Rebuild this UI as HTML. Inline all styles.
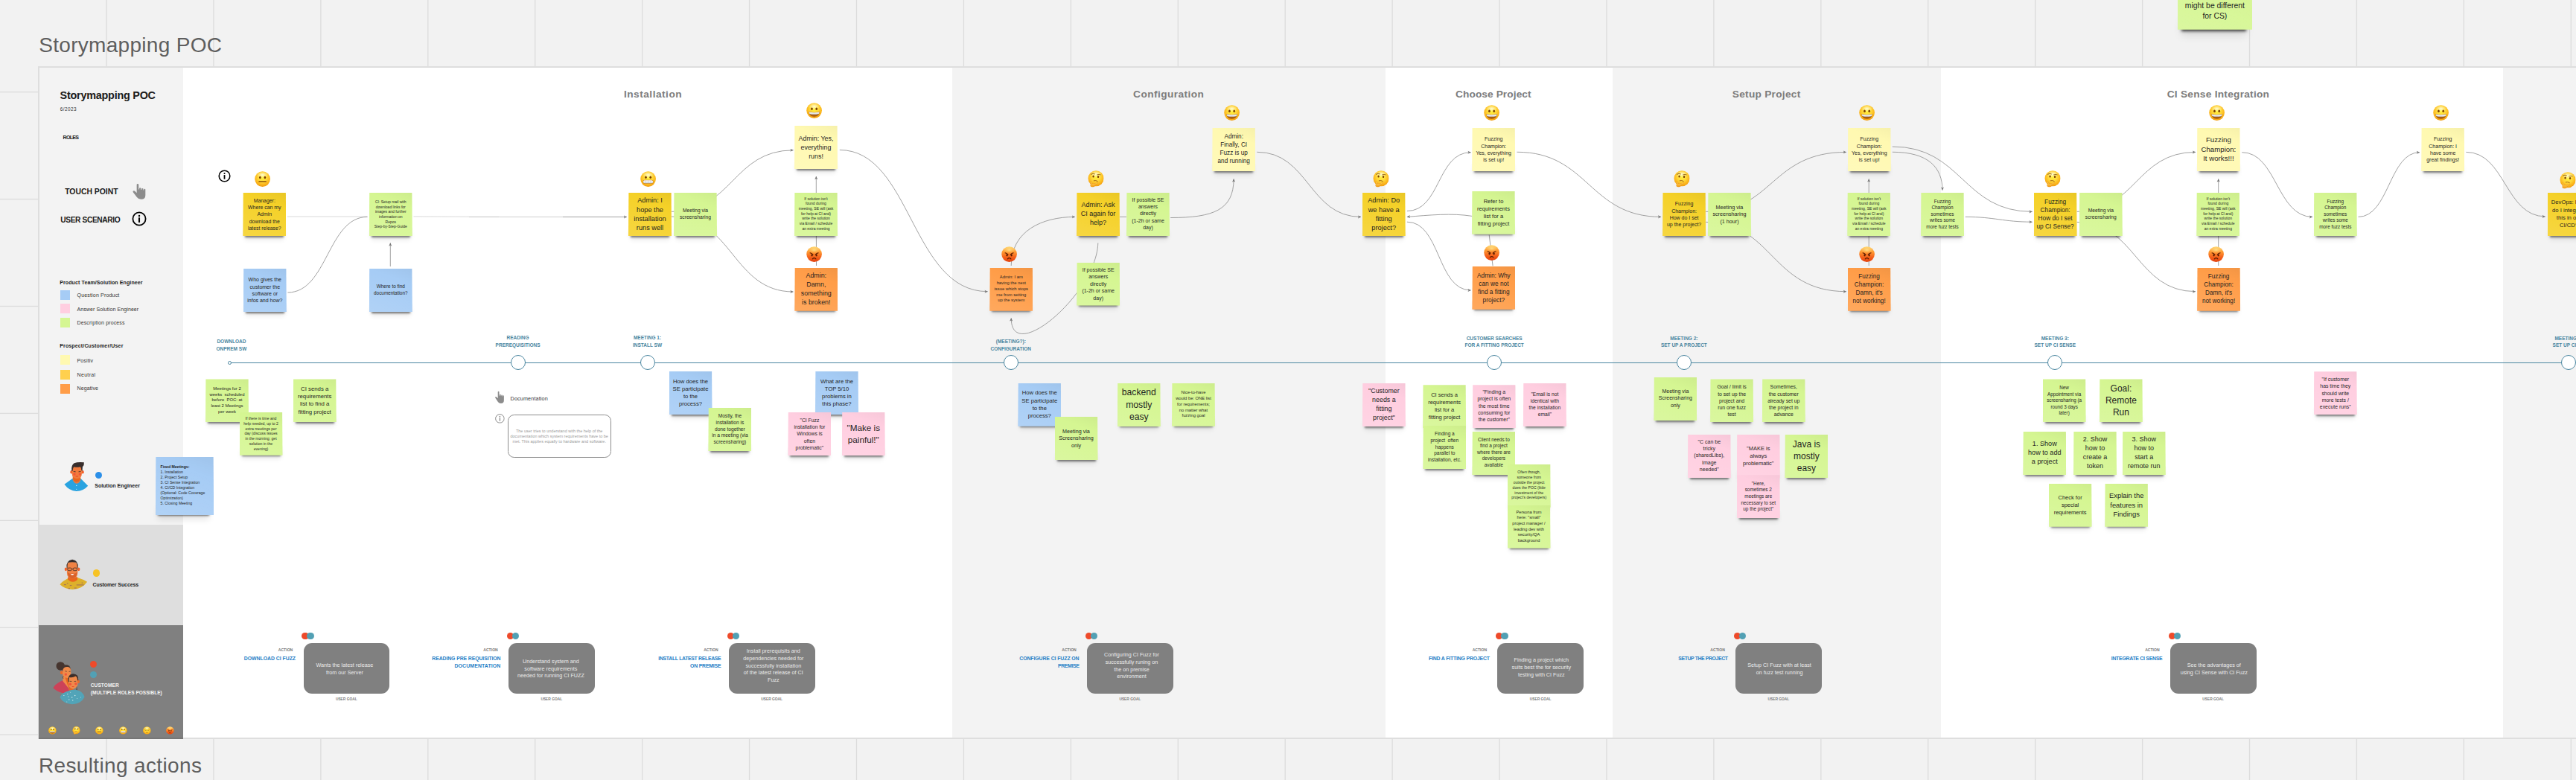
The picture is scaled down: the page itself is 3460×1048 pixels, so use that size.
<!DOCTYPE html>
<html><head><meta charset="utf-8"><title>Storymapping POC</title><style>
*{box-sizing:border-box}
html,body{margin:0;padding:0}
body{width:3460px;height:1048px;overflow:hidden;position:relative;background:#f2f2f2;font-family:"Liberation Sans",sans-serif;color:#1a1a1a}
.a{position:absolute}
svg{overflow:visible}
.gl{position:absolute;background:#e2e2e2}
.t{position:absolute;white-space:nowrap}
.s{position:absolute;width:58px;height:58px;z-index:5;display:flex;align-items:center;justify-content:center;text-align:center;line-height:1.335;color:#1f1f1f}
.s::before{content:"";position:absolute;left:3px;right:3px;bottom:.5px;height:12px;z-index:-2;box-shadow:0 2px 2.6px rgba(0,0,0,.5),0 5px 7px rgba(0,0,0,.09)}
.s::after{content:"";position:absolute;left:0;top:0;right:0;bottom:0;z-index:-1;clip-path:polygon(.7% 0,99.3% 0,100% 100%,0 100%)}
.s.y::after{background:linear-gradient(200deg,rgba(0,0,0,.05) 0,rgba(0,0,0,0) 28%,rgba(255,255,255,.12) 100%),#f5d128}
.s.ly::after{background:linear-gradient(200deg,rgba(0,0,0,.035) 0,rgba(0,0,0,0) 28%,rgba(255,255,255,.12) 100%),#fff9b1}
.s.o::after{background:linear-gradient(200deg,rgba(0,0,0,.05) 0,rgba(0,0,0,0) 28%,rgba(255,255,255,.12) 100%),#ff9d48}
.s.g::after{background:linear-gradient(200deg,rgba(0,0,0,.04) 0,rgba(0,0,0,0) 28%,rgba(255,255,255,.12) 100%),#d5f692}
.s.b::after{background:linear-gradient(200deg,rgba(0,0,0,.04) 0,rgba(0,0,0,0) 28%,rgba(255,255,255,.12) 100%),#a6ccf5}
.s.p::after{background:linear-gradient(200deg,rgba(0,0,0,.035) 0,rgba(0,0,0,0) 28%,rgba(255,255,255,.12) 100%),#ffcee0}
.s span{display:block;white-space:pre}
.s.big::before{left:5px;right:8px;bottom:1px;height:20px;box-shadow:0 2.8px 3.8px rgba(0,0,0,.72),0 9px 12px rgba(0,0,0,.1)}
.s.mid::before{left:3.5px;right:6px;bottom:1px;height:16px;box-shadow:0 2.2px 3px rgba(0,0,0,.72),0 7px 9px rgba(0,0,0,.1)}
.hd{position:absolute;top:117.5px;height:18px;line-height:18px;font-weight:bold;font-size:13.7px;color:#7c7c7c;white-space:nowrap}
.tl{position:absolute;height:9px;line-height:9px;font-weight:bold;font-size:6.5px;color:#4a86a0;white-space:nowrap;text-align:center;width:200px}
.nd{position:absolute;width:20px;height:20px;border-radius:50%;background:#fff;border:1.1px solid #4a86a0;top:477.3px}
.card{position:absolute;top:863.7px;width:115.8px;height:68.2px;border-radius:11px;background:#808080;color:#ebebeb;font-size:7.2px;line-height:9.8px;display:flex;align-items:center;justify-content:center;text-align:center;white-space:nowrap}
.act{position:absolute;height:8px;line-height:8px;font-size:5.1px;font-weight:bold;color:#777;text-align:right;width:120px;white-space:nowrap}
.an{position:absolute;height:10px;line-height:10px;font-size:6.9px;font-weight:bold;color:#1f80c6;text-align:right;width:160px;white-space:nowrap}
.ug{position:absolute;top:936px;height:8px;line-height:8px;font-size:4.85px;font-weight:bold;color:#777;text-align:center;width:120px;white-space:nowrap}
.dot{position:absolute;border-radius:50%}
.lg{position:absolute;left:103.5px;height:10px;line-height:10px;font-size:7px;color:#333;white-space:nowrap}
.lq{position:absolute;left:80.6px;width:13.2px;height:13.2px}
</style></head><body>

<svg width="0" height="0" style="position:absolute">
<defs>
<radialGradient id="gy" cx="50%" cy="38%" r="62%">
 <stop offset="0" stop-color="#fff53a"/><stop offset=".45" stop-color="#ffd93b"/><stop offset=".8" stop-color="#fbb41a"/><stop offset="1" stop-color="#f09a10"/>
</radialGradient>
<linearGradient id="ga" x1="0" y1="0" x2="0" y2="1">
 <stop offset="0" stop-color="#ffd872"/><stop offset=".35" stop-color="#ff9a33"/><stop offset=".7" stop-color="#f4601a"/><stop offset="1" stop-color="#e2400c"/>
</linearGradient>
<radialGradient id="hl" cx=".5" cy=".5" r=".5"><stop offset="0" stop-color="#fff" stop-opacity=".8"/><stop offset=".5" stop-color="#fff" stop-opacity=".35"/><stop offset="1" stop-color="#fff" stop-opacity="0"/></radialGradient>
<radialGradient id="hla" cx=".5" cy=".5" r=".5"><stop offset="0" stop-color="#ffe890" stop-opacity=".8"/><stop offset=".5" stop-color="#ffe08a" stop-opacity=".35"/><stop offset="1" stop-color="#ffe08a" stop-opacity="0"/></radialGradient>
<linearGradient id="gt" x1="0" y1="0" x2="0" y2="1">
 <stop offset="0" stop-color="#ffffff"/><stop offset="1" stop-color="#cfd3dc"/>
</linearGradient>
<linearGradient id="gm" x1="0" y1="0" x2="0" y2="1">
 <stop offset="0" stop-color="#7a3d00"/><stop offset="1" stop-color="#c06a10"/>
</linearGradient>
<linearGradient id="gh" x1="0" y1="0" x2="0" y2="1">
 <stop offset="0" stop-color="#ffe070"/><stop offset="1" stop-color="#f59a10"/>
</linearGradient>

<symbol id="e-grin" viewBox="0 0 42 42">
 <circle cx="21" cy="21" r="20.5" fill="url(#gy)"/>
 <ellipse cx="21" cy="10" rx="15" ry="9" fill="url(#hl)"/>
 <ellipse cx="14.8" cy="16.5" rx="2.6" ry="3.5" fill="#7a3b00"/>
 <ellipse cx="27.2" cy="16.5" rx="2.6" ry="3.5" fill="#7a3b00"/>
 <path d="M6.5 24.5 Q21 27.5 35.500 24.5 Q34 37.500 21 37.500 Q8 37.500 6.500 24.5Z" fill="url(#gm)"/>
 <path d="M7 24.600 Q21 27.5 35 24.600 Q34.600 28.500 32.500 30.300 Q21 32.500 9.500 30.300 Q7.400 28.500 7 24.600Z" fill="url(#gt)"/>
</symbol>

<symbol id="e-neutral" viewBox="0 0 42 42">
 <circle cx="21" cy="21" r="20.5" fill="url(#gy)"/>
 <ellipse cx="21" cy="10" rx="15" ry="9" fill="url(#hl)"/>
 <ellipse cx="14.500" cy="16.800" rx="2.6" ry="3.6" fill="#7a3b00"/>
 <ellipse cx="27.5" cy="16.800" rx="2.6" ry="3.6" fill="#7a3b00"/>
 <rect x="10.5" y="26.300" width="21" height="2.6" rx="1.3" fill="#7a3b00"/>
</symbol>

<symbol id="e-grimace" viewBox="0 0 42 42">
 <circle cx="21" cy="21" r="20.5" fill="url(#gy)"/>
 <ellipse cx="21" cy="10" rx="15" ry="9" fill="url(#hl)"/>
 <ellipse cx="14.800" cy="16.300" rx="2.6" ry="3.5" fill="#7a3b00"/>
 <ellipse cx="27.200" cy="16.300" rx="2.6" ry="3.5" fill="#7a3b00"/>
 <rect x="6.800" y="23.300" width="28.400" height="10" rx="4.800" fill="#c47a10"/>
 <rect x="7.800" y="24.300" width="26.400" height="8" rx="3.900" fill="url(#gt)"/>
 <path d="M14.400 24.300V32.300M21 24.300V32.300M27.600 24.300V32.300" stroke="#b9bdc8" stroke-width=".9"/>
</symbol>

<symbol id="e-think" viewBox="0 0 42 44">
 <circle cx="21.5" cy="21" r="20.5" fill="url(#gy)"/>
 <ellipse cx="21.5" cy="10" rx="15" ry="9" fill="url(#hl)"/>
 <ellipse cx="14.700" cy="15.600" rx="2.3" ry="3" fill="#7a3b00"/>
 <ellipse cx="27.300" cy="16.400" rx="2.3" ry="3" fill="#7a3b00"/>
 <path d="M9 10.500 Q13.500 6.500 18 9.500" stroke="#9a6a1a" stroke-width="2" fill="none" stroke-linecap="round"/>
 <path d="M24.500 11.500 Q29 9.500 33.500 11.500" stroke="#9a6a1a" stroke-width="2" fill="none" stroke-linecap="round"/>
 <path d="M16 26.800 Q21 25.200 25.800 28.200" stroke="#9a5a10" stroke-width="1.800" fill="none" stroke-linecap="round"/>
 <path d="M7.500 29 Q6.500 31 8.500 34 L7 40 Q7.500 43.500 13 43.500 Q19 43 19.500 38 Q22 36.500 26 33.200 Q27 31.800 25.500 31.500 Q21 33 18 35 Q14 33 11.500 34.500 Q10.500 31 9.500 29 Q8.500 28 7.500 29Z" fill="url(#gh)" stroke="#e08a0a" stroke-width=".7"/>
</symbol>

<symbol id="e-angry" viewBox="0 0 42 42">
 <circle cx="21" cy="21" r="20.5" fill="url(#ga)"/>
 <ellipse cx="21" cy="9.5" rx="15" ry="9" fill="url(#hla)"/>
 <ellipse cx="15" cy="23.500" rx="2.300" ry="3.200" fill="#5a1a00"/>
 <ellipse cx="27" cy="23.500" rx="2.300" ry="3.200" fill="#5a1a00"/>
 <path d="M10 17.500 Q14 18.500 18 22" stroke="#5a1a00" stroke-width="2" fill="none" stroke-linecap="round"/>
 <path d="M32 17.500 Q28 18.500 24 22" stroke="#5a1a00" stroke-width="2" fill="none" stroke-linecap="round"/>
 <path d="M16.500 33.500 Q21 28.500 25.500 33.500" stroke="#5a1a00" stroke-width="2.300" fill="none" stroke-linecap="round"/>
</symbol>

<symbol id="e-pensive" viewBox="0 0 42 42">
 <circle cx="21" cy="21" r="20.5" fill="url(#gy)"/>
 <ellipse cx="21" cy="10" rx="15" ry="9" fill="url(#hl)"/>
 <path d="M10.500 20 Q14.500 23 18 20.500" stroke="#7a3b00" stroke-width="1.800" fill="none" stroke-linecap="round"/>
 <path d="M24 20.500 Q27.500 23 31.500 20" stroke="#7a3b00" stroke-width="1.800" fill="none" stroke-linecap="round"/>
 <path d="M9 15 Q13 12 17 13.500" stroke="#9a6a1a" stroke-width="1.600" fill="none" stroke-linecap="round"/>
 <path d="M25 13.500 Q29 12 33 15" stroke="#9a6a1a" stroke-width="1.600" fill="none" stroke-linecap="round"/>
 <path d="M17 31.500 Q21 29 25 31.500" stroke="#7a3b00" stroke-width="1.800" fill="none" stroke-linecap="round"/>
</symbol>

<symbol id="i-info" viewBox="0 0 20 20">
 <circle cx="10" cy="10" r="8.600" fill="none" stroke="#000" stroke-width="1.800"/>
 <circle cx="10" cy="5.900" r="1.250" fill="#000"/>
 <rect x="8.950" y="8.300" width="2.100" height="6.600" fill="#000"/>
</symbol>
<symbol id="i-info-thin" viewBox="0 0 20 20">
 <circle cx="10" cy="10" r="9" fill="none" stroke="#555" stroke-width="1.100"/>
 <circle cx="10" cy="5.800" r="1.100" fill="#555"/>
 <rect x="9.300" y="8.300" width="1.400" height="6.800" fill="#555"/>
</symbol>
<symbol id="i-hand" viewBox="0 0 18 22">
 <path d="M5.700 2.200 Q5.700 0.900 6.800 0.900 Q7.900 0.900 7.900 2.200 L7.900 8.200 L8.600 8.200 L8.600 6.900 Q8.600 5.900 9.600 5.900 Q10.600 5.900 10.600 6.900 L10.600 8.600 L11.300 8.600 L11.300 7.500 Q11.300 6.600 12.250 6.600 Q13.200 6.600 13.200 7.500 L13.200 9.200 L13.900 9.200 L13.900 8.300 Q13.900 7.500 14.800 7.500 Q15.700 7.500 15.700 8.400 L15.700 15.500 Q15.700 20.800 10.800 20.800 Q7.500 20.800 5.900 18.200 L1.500 11.600 Q0.900 10.600 1.800 10 Q2.700 9.500 3.600 10.400 L5.700 12.600 Z" fill="#8c8c8c"/>
</symbol>

<symbol id="av-se" viewBox="0 0 34 42">
 <path d="M0.500 31.500 L11.500 23.500 L23 23.500 L33 33.500 Q27 40.500 17 41 Q7 40.500 0.500 31.500Z" fill="#29a3e0"/>
 <path d="M12 17 L12 24.500 Q14.500 28.500 17.500 28.800 Q21 28 22.800 24.500 L22.800 17Z" fill="#e8661e"/>
 <path d="M12 24.300 Q14.500 28.700 17.500 28.800 Q21 28 22.800 24.300 L23.500 23.600 Q21.500 30.500 17.500 30.500 Q13.500 30.500 11.300 23.600Z" fill="#f27a3c"/>
 <ellipse cx="10.200" cy="14.600" rx="1.700" ry="2.400" fill="#f0602a"/>
 <ellipse cx="25.700" cy="14.600" rx="1.700" ry="2.400" fill="#f0602a"/>
 <path d="M11 8 Q11 6 17.500 6 Q24.500 6 24.500 8 L24.500 17 Q24.500 23.500 17.800 23.800 Q11 23.500 11 17Z" fill="#f27a3c"/>
 <path d="M10.600 13.500 Q9.500 5 14 2.300 Q19 0.300 27.500 1.200 Q28 5 25.500 7.500 L25.200 13 L24 12.500 Q23.500 8.500 22.500 7.300 Q17 8.500 13.500 7.300 Q12 9 11.800 13Z" fill="#382e2c"/>
 <circle cx="14.300" cy="17.500" r="1.700" fill="#f2553a"/><circle cx="21.800" cy="17.500" r="1.700" fill="#f2553a"/>
 <path d="M13 13.800 L16 14.200 M20 14.200 L23 13.800" stroke="#40302a" stroke-width=".9"/>
 <path d="M16 20.300 Q17.800 21 19.600 20.300" stroke="#e8452c" stroke-width="1" fill="none"/>
 <circle cx="17.200" cy="33.200" r=".6" fill="#dff"/><circle cx="17.200" cy="38.200" r=".6" fill="#dff"/>
</symbol>

<symbol id="av-cs" viewBox="0 0 38 42">
 <path d="M0.500 34.500 Q4 30 13 25.500 L25 25.500 Q33 28 37.500 31 Q31 40.500 18 41.500 Q7 41 0.500 34.500Z" fill="#ddb02c"/>
 <path d="M6 35 h3 M14 36 h2.500 M23 35.300 h10 M20 39.500 h3 M10 33 h1.500 M30 32.500 h1.500 M12 40 h2" stroke="#8a5a6a" stroke-width=".8"/>
 <path d="M11.300 24.500 L11.300 27.500 Q13.500 31 18 31 Q22.500 31 24.300 27.500 L24.300 24.500Z" fill="#ea651c"/>
 <ellipse cx="8.500" cy="14" rx="1.700" ry="2.500" fill="#f0602a"/>
 <ellipse cx="26" cy="14" rx="1.700" ry="2.500" fill="#f0602a"/>
 <path d="M10 8 Q10 4 17.300 4 Q24.600 4 24.600 8 L24.600 19 Q24.600 26.500 17.300 26.500 Q10 26.500 10 19Z" fill="#f08244"/>
 <path d="M10.800 17.500 Q10.800 26.300 17.300 26.600 Q23.800 26.300 23.800 17.500 Q22 21 17.300 19.500 Q12.500 21 10.800 17.500Z" fill="#d9622a"/>
 <path d="M14.800 20.800 Q17.300 19.800 19.800 20.800 Q17.300 23.300 14.800 20.800Z" fill="#fff"/>
 <path d="M9.800 12.500 Q8 2.500 17.300 0.800 Q26.500 2.500 24.800 12.500 L24 12.500 Q24 6 22.500 4.800 Q17.300 4 12 4.800 Q10.500 6 10.600 12.500Z" fill="#362c2a"/>
 <rect x="11" y="12.200" width="5.200" height="3.600" rx="1.200" fill="none" stroke="#3a2c28" stroke-width=".8"/>
 <rect x="18.400" y="12.200" width="5.200" height="3.600" rx="1.200" fill="none" stroke="#3a2c28" stroke-width=".8"/>
 <path d="M16.200 13.600 h2.200" stroke="#3a2c28" stroke-width=".8"/>
</symbol>

<symbol id="av-cu" viewBox="0 0 44 60">
 <circle cx="10.300" cy="7" r="5.800" fill="#46352f"/>
 <path d="M11 9.500 Q14 4 20 5.500 Q24.500 7 24 13 L14 15Z" fill="#46352f"/>
 <ellipse cx="11.700" cy="15.800" rx="1.800" ry="2.400" fill="#ec6a28"/>
 <path d="M13.500 12 Q15 7.500 20.500 8.200 Q25 9 24.500 16 Q24 22 20.500 23.500 L22.500 40 L12 38 L14 22 Q12.500 17 13.500 12Z" fill="#f08a4a"/>
 <path d="M16.500 22.500 L22.500 40 L20.500 23.500Z" fill="#e8661e"/>
 <circle cx="17.500" cy="18.300" r="1.700" fill="#f2553a"/>
 <path d="M16.500 13.800 L19 14.400 M21.800 14.600 L24 14.200" stroke="#40302a" stroke-width=".7"/>
 <path d="M14.200 20.500 Q13 22.500 14 24" stroke="#46352f" stroke-width=".7" fill="none"/>
 <path d="M0.300 37 Q2 32 12.800 26.500 L21.500 37.500 L23 44 Q10 45.500 0.300 37Z" fill="#cc4258"/>
 <g transform="translate(-1.200 3.600)">
 <path d="M24 46 L23.500 32 L29 33 L29.500 46Z" fill="#e8661e"/>
 <path d="M22.500 22 Q22 15.500 28.500 15.800 Q35 15.500 35 22 L35 27 Q35 33.500 28.500 34.500 Q22.500 33.500 22.500 27Z" fill="#f08a4a"/>
 <ellipse cx="36" cy="24.500" rx="1.600" ry="2.400" fill="#ec6a28"/>
 <path d="M22 25 Q20.500 14.500 28.500 13.800 Q36.500 14 35.800 23 L34.500 23 Q34.500 18 32 17 Q28 19.500 23.500 18.500 Q22.800 21 23 25Z" fill="#3c2e2a"/>
 <path d="M33.500 30 L34.200 37 L33 37Z" fill="#3c2e2a"/>
 <circle cx="24.800" cy="28" r="1.700" fill="#f2553a"/><circle cx="32.300" cy="27.500" r="1.700" fill="#f2553a"/>
 <path d="M24 24 L26.800 24.200 M30 24.200 L32.800 24" stroke="#40302a" stroke-width=".7"/>
 <path d="M27 31 Q28.500 31.800 30 31" stroke="#e8452c" stroke-width=".9" fill="none"/>
 </g>
 <path d="M9.500 49.500 Q12 43 22 40.500 Q26 38.500 32 39.500 Q41 41.500 43 49 Q38 58.500 26 58.800 Q14 58 9.500 49.500Z" fill="#52a4b8"/>
 <g fill="#e8f4f4"><circle cx="15" cy="47" r=".6"/><circle cx="20" cy="45" r=".6"/><circle cx="21" cy="48.500" r=".6"/><circle cx="26" cy="49.500" r=".7"/><circle cx="30" cy="47" r=".7"/><circle cx="22" cy="52.500" r=".6"/><circle cx="27" cy="53.500" r=".6"/><circle cx="33" cy="51" r=".5"/><circle cx="38" cy="49.500" r=".5"/><circle cx="19" cy="55.500" r=".5"/><circle cx="24" cy="42.800" r=".5"/></g>
</symbol>

<marker id="ah" viewBox="0 0 10 10" refX="9.500" refY="5" markerWidth="4.600" markerHeight="4.600" markerUnits="userSpaceOnUse" orient="auto">
 <path d="M0.500 0.500 L9.800 5 L0.500 9.500 L3 5Z" fill="#777"/>
</marker>
</defs>
</svg>

<svg class="a" style="left:0;top:0;width:3460px;height:1048px" viewBox="0 0 3460 1048" fill="#dcdcdc">
<rect x="-1.55" y="0" width="1.3" height="1048"/>
<rect x="142.38" y="0" width="1.3" height="1048"/>
<rect x="286.30" y="0" width="1.3" height="1048"/>
<rect x="430.23" y="0" width="1.3" height="1048"/>
<rect x="574.15" y="0" width="1.3" height="1048"/>
<rect x="718.08" y="0" width="1.3" height="1048"/>
<rect x="862.00" y="0" width="1.3" height="1048"/>
<rect x="1005.93" y="0" width="1.3" height="1048"/>
<rect x="1149.85" y="0" width="1.3" height="1048"/>
<rect x="1293.77" y="0" width="1.3" height="1048"/>
<rect x="1437.70" y="0" width="1.3" height="1048"/>
<rect x="1581.62" y="0" width="1.3" height="1048"/>
<rect x="1725.55" y="0" width="1.3" height="1048"/>
<rect x="1869.47" y="0" width="1.3" height="1048"/>
<rect x="2013.40" y="0" width="1.3" height="1048"/>
<rect x="2157.32" y="0" width="1.3" height="1048"/>
<rect x="2301.25" y="0" width="1.3" height="1048"/>
<rect x="2445.18" y="0" width="1.3" height="1048"/>
<rect x="2589.10" y="0" width="1.3" height="1048"/>
<rect x="2733.03" y="0" width="1.3" height="1048"/>
<rect x="2876.95" y="0" width="1.3" height="1048"/>
<rect x="3020.88" y="0" width="1.3" height="1048"/>
<rect x="3164.80" y="0" width="1.3" height="1048"/>
<rect x="3308.72" y="0" width="1.3" height="1048"/>
<rect x="3452.65" y="0" width="1.3" height="1048"/>
<rect x="3596.58" y="0" width="1.3" height="1048"/>
<rect x="0" y="-20.95" width="3460" height="1.3"/>
<rect x="0" y="122.98" width="3460" height="1.3"/>
<rect x="0" y="266.90" width="3460" height="1.3"/>
<rect x="0" y="410.83" width="3460" height="1.3"/>
<rect x="0" y="554.75" width="3460" height="1.3"/>
<rect x="0" y="698.68" width="3460" height="1.3"/>
<rect x="0" y="842.60" width="3460" height="1.3"/>
<rect x="0" y="986.53" width="3460" height="1.3"/>
<rect x="0" y="1130.45" width="3460" height="1.3"/>
</svg>
<div class="t" style="left:52.2px;top:41px;height:40px;line-height:40px;font-size:28px;color:#5e5e5e;letter-spacing:0.305px">Storymapping POC</div>
<div class="t" style="left:52px;top:1009.4px;height:40px;line-height:40px;font-size:28px;color:#5e5e5e;letter-spacing:0.354px">Resulting actions</div>
<div class="a" style="left:51px;top:89px;width:3420px;height:904px;background:#dedede"></div>
<div class="a" style="left:53px;top:91px;width:3420px;height:900px;background:#fff"></div>
<div class="a" style="left:53.0px;top:91.0px;width:193.2px;height:614.0px;background:#f3f3f3"></div>
<div class="a" style="left:53.0px;top:705.0px;width:193.2px;height:134.5px;background:#dedede"></div>
<div class="a" style="left:52.0px;top:839.5px;width:194.2px;height:151.5px;background:#808080"></div>
<div class="a" style="left:52.0px;top:991.0px;width:194.2px;height:2.0px;background:#767676"></div>
<div class="a" style="left:1279.4px;top:91.0px;width:581.8px;height:900.0px;background:#f3f3f3"></div>
<div class="a" style="left:2166.3px;top:91.0px;width:440.8px;height:900.0px;background:#f3f3f3"></div>
<div class="a" style="left:3361.5px;top:91.0px;width:98.5px;height:900.0px;background:#f3f3f3"></div>
<div class="t" style="left:80.6px;top:118px;height:20px;line-height:20px;font-size:14.4px;font-weight:bold;color:#1a1a1a;letter-spacing:-0.234px">Storymapping POC</div>
<div class="t" style="left:80.8px;top:142.2px;height:10px;line-height:10px;font-size:6.4px;color:#333;letter-spacing:0.445px">6/2023</div>
<div class="t" style="left:84.5px;top:179.6px;height:10px;line-height:10px;font-size:7.1px;font-weight:bold;color:#1a1a1a;letter-spacing:-0.715px">ROLES</div>
<div class="t" style="left:87.2px;top:250px;height:16px;line-height:16px;font-size:10.4px;font-weight:bold;color:#1a1a1a;letter-spacing:-0.006px">TOUCH POINT</div>
<div class="t" style="left:81.3px;top:288.4px;height:16px;line-height:16px;font-size:10.2px;font-weight:bold;color:#1a1a1a;letter-spacing:-0.384px">USER SCENARIO</div>
<svg class="a" style="left:177px;top:245.5px;width:21px;height:23px" preserveAspectRatio="none" viewBox="0 0 18 22"><path d="M5.700 2.200 Q5.700 0.900 6.800 0.900 Q7.900 0.900 7.900 2.200 L7.900 8.200 L8.600 8.200 L8.600 6.900 Q8.600 5.900 9.600 5.900 Q10.600 5.900 10.600 6.900 L10.600 8.600 L11.300 8.600 L11.300 7.500 Q11.300 6.600 12.250 6.600 Q13.200 6.600 13.200 7.500 L13.200 9.200 L13.900 9.200 L13.900 8.300 Q13.900 7.500 14.800 7.500 Q15.700 7.500 15.700 8.400 L15.700 15.500 Q15.700 20.800 10.800 20.800 Q7.500 20.800 5.900 18.200 L1.500 11.600 Q0.900 10.600 1.800 10 Q2.700 9.500 3.600 10.400 L5.700 12.600 Z" fill="#8c8c8c"/></svg>
<svg class="a" style="left:177.4px;top:283.5px;width:20px;height:20px"><use href="#i-info"/></svg>
<div class="t" style="left:80.2px;top:374.5px;height:10px;line-height:10px;font-size:7px;font-weight:bold;color:#1a1a1a;letter-spacing:0.117px">Product Team/Solution Engineer</div>
<div class="lq" style="top:390.2px;background:#a6ccf5"></div>
<div class="lg" style="top:391.6px;letter-spacing:0.181px">Question Product</div>
<div class="lq" style="top:408.2px;background:#ffcee0"></div>
<div class="lg" style="top:410.6px;letter-spacing:0.093px">Answer Solution Engineer</div>
<div class="lq" style="top:426.6px;background:#d5f692"></div>
<div class="lg" style="top:429.0px;letter-spacing:0.141px">Description process</div>
<div class="t" style="left:80.2px;top:460.3px;height:10px;line-height:10px;font-size:7px;font-weight:bold;color:#1a1a1a;letter-spacing:0.148px">Prospect/Customer/User</div>
<div class="lq" style="top:477.0px;background:#fff9b1"></div>
<div class="lg" style="top:480.1px;letter-spacing:0.147px">Positiv</div>
<div class="lq" style="top:496.5px;background:#ffd04e"></div>
<div class="lg" style="top:498.9px;letter-spacing:0.339px">Neutral</div>
<div class="lq" style="top:515.9px;background:#ff9d48"></div>
<div class="lg" style="top:517.3px;letter-spacing:0.110px">Negative</div>
<svg class="a" style="left:85.6px;top:619.6px;width:33.2px;height:41px"><use href="#av-se"/></svg>
<div class="dot" style="left:128px;top:634px;width:9.4px;height:9.4px;background:#2b8fe8"></div>
<div class="t" style="left:127.2px;top:648.2px;height:10px;line-height:10px;font-size:7px;font-weight:bold;color:#1a1a1a;letter-spacing:0.051px">Solution Engineer</div>
<svg class="a" style="left:80.4px;top:751.4px;width:37.6px;height:41.6px"><use href="#av-cs"/></svg>
<div class="dot" style="left:125px;top:765.3px;width:9.4px;height:9.4px;background:#f7c325"></div>
<div class="t" style="left:124.5px;top:781.2px;height:10px;line-height:10px;font-size:7px;font-weight:bold;color:#1a1a1a;letter-spacing:-0.089px">Customer Success</div>
<svg class="a" style="left:71.4px;top:887.6px;width:43.6px;height:59.4px"><use href="#av-cu"/></svg>
<div class="dot" style="left:120.6px;top:887.6px;width:9.4px;height:9.4px;background:#ee4a2a"></div>
<div class="dot" style="left:120.6px;top:901.6px;width:9.4px;height:9.4px;background:#52a0b4"></div>
<div class="t" style="left:121.8px;top:916.2px;height:10px;line-height:10px;font-size:6.5px;font-weight:bold;color:#f4f4f4;letter-spacing:0.103px">CUSTOMER</div>
<div class="t" style="left:121.8px;top:926.3px;height:10px;line-height:10px;font-size:6.5px;font-weight:bold;color:#f4f4f4;letter-spacing:0.028px">(MULTIPLE ROLES POSSIBLE)</div>
<svg class="a" style="left:64.6px;top:975.6px;width:10.8px;height:10.8px"><use href="#e-grin"/></svg>
<svg class="a" style="left:96.5px;top:975.6px;width:10.8px;height:10.8px"><use href="#e-think"/></svg>
<svg class="a" style="left:127.6px;top:975.6px;width:10.8px;height:10.8px"><use href="#e-neutral"/></svg>
<svg class="a" style="left:159.5px;top:975.6px;width:10.8px;height:10.8px"><use href="#e-grimace"/></svg>
<svg class="a" style="left:191.5px;top:975.6px;width:10.8px;height:10.8px"><use href="#e-pensive"/></svg>
<svg class="a" style="left:222.6px;top:975.6px;width:10.8px;height:10.8px"><use href="#e-angry"/></svg>
<div class="hd" style="left:837.9px;letter-spacing:0.499px">Installation</div>
<div class="hd" style="left:1522.1px;letter-spacing:0.417px">Configuration</div>
<div class="hd" style="left:1955.0px;letter-spacing:0.093px">Choose Project</div>
<div class="hd" style="left:2326.8px;letter-spacing:0.266px">Setup Project</div>
<div class="hd" style="left:2910.7px;letter-spacing:0.260px">CI Sense Integration</div>
<div class="a" style="left:310px;top:486.75px;width:3150px;height:1.1px;background:#4a86a0"></div>
<div class="a" style="left:306.4px;top:484.8px;width:5px;height:5px;border-radius:50%;background:#fff;border:1.1px solid #4a86a0"></div>
<div class="tl" style="left:210.9px;top:454.0px">DOWNLOAD</div>
<div class="tl" style="left:210.9px;top:463.9px">ONPREM SW</div>
<div class="nd" style="left:685.6px"></div>
<div class="tl" style="left:595.6px;top:449.1px">READING</div>
<div class="tl" style="left:595.6px;top:459.0px">PREREQUISITIONS</div>
<div class="nd" style="left:859.5px"></div>
<div class="tl" style="left:769.5px;top:449.1px">MEETING 1:</div>
<div class="tl" style="left:769.5px;top:459.0px">INSTALL SW</div>
<div class="nd" style="left:1347.8px"></div>
<div class="tl" style="left:1257.8px;top:454.0px">(MEETING?):</div>
<div class="tl" style="left:1257.8px;top:463.9px">CONFIGURATION</div>
<div class="nd" style="left:1997.2px"></div>
<div class="tl" style="left:1907.2px;top:449.9px">CUSTOMER SEARCHES</div>
<div class="tl" style="left:1907.2px;top:459.0px">FOR A FITTING PROJECT</div>
<div class="nd" style="left:2251.9px"></div>
<div class="tl" style="left:2161.9px;top:449.9px">MEETING 2:</div>
<div class="tl" style="left:2161.9px;top:459.0px">SET UP A PROJECT</div>
<div class="nd" style="left:2750.3px"></div>
<div class="tl" style="left:2660.3px;top:449.9px">MEETING 3:</div>
<div class="tl" style="left:2660.3px;top:459.0px">SET UP CI SENSE</div>
<div class="nd" style="left:3440.0px"></div>
<div class="tl" style="left:3350.0px;top:449.9px">MEETING 4:</div>
<div class="tl" style="left:3350.0px;top:459.0px">SET UP CI/CD</div>
<svg class="a" style="left:0;top:0;width:3460px;height:1048px;z-index:2" viewBox="0 0 3460 1048" fill="none">
<path d="M386,291 L493.5,291" stroke="#cfcfcf" stroke-width=".8"/>
<path d="M386.4,393 C440,393 440,291.4 493.5,291.4" stroke="#8a8a8a" stroke-width=".8"/>
<path d="M524.3,358 L524.3,326.5" stroke="#8a8a8a" stroke-width=".8" marker-end="url(#ah)"/>
<path d="M555.5,290.9 L630,291.2" stroke="#cfcfcf" stroke-width=".8"/>
<path d="M630,291.4 L670.7,291.4" stroke="#b4b4b4" stroke-width=".8"/>
<path d="M670.7,291.5 L756,291.5" stroke="#c2c2c2" stroke-width=".8"/>
<path d="M756,291.5 L842,291.5" stroke="#8a8a8a" stroke-width=".8" marker-end="url(#ah)"/>
<path d="M902,284.4 C984,284.4 984,201.8 1065.5,201.8" stroke="#8a8a8a" stroke-width=".8" marker-end="url(#ah)"/>
<path d="M902,291 C984,291 984,392 1065.5,392" stroke="#8a8a8a" stroke-width=".8" marker-end="url(#ah)"/>
<path d="M1096.3,259 L1096.3,237" stroke="#8a8a8a" stroke-width=".8" marker-end="url(#ah)"/>
<path d="M1096.4,317 L1096.5,357" stroke="#8a8a8a" stroke-width=".8"/>
<path d="M1127.8,201.5 C1224,201.5 1224,391.7 1326.6,391.7" stroke="#8a8a8a" stroke-width=".8" marker-end="url(#ah)"/>
<path d="M1358.2,357 C1358.2,310 1400,291.4 1443.9,291.4" stroke="#8a8a8a" stroke-width=".8" marker-end="url(#ah)"/>
<path d="M1504,291.4 L1513,291.4" stroke="#8a8a8a" stroke-width=".8"/>
<path d="M1572.2,292.5 C1630,292.5 1657.1,282 1657.1,240.4" stroke="#8a8a8a" stroke-width=".8" marker-end="url(#ah)"/>
<path d="M1688.3,204.3 C1758,204.3 1758,291.4 1828,291.4" stroke="#8a8a8a" stroke-width=".8" marker-end="url(#ah)"/>
<path d="M1474.8,326.5 C1473,394 1358.2,492 1358.2,427.4" stroke="#8a8a8a" stroke-width=".8" marker-end="url(#ah)"/>
<path d="M1889.9,283.5 C1935,283.5 1930,204.7 1975.6,204.7" stroke="#8a8a8a" stroke-width=".8" marker-end="url(#ah)"/>
<path d="M1977.3,290.4 C1950,286 1920,289 1889.9,291.4" stroke="#8a8a8a" stroke-width=".8" marker-end="url(#ah)"/>
<path d="M1889.9,298.2 C1935,298.2 1930,390 1975.6,390" stroke="#8a8a8a" stroke-width=".8" marker-end="url(#ah)"/>
<path d="M2000.2,315.5 L2005.1,357.3" stroke="#8a8a8a" stroke-width=".8"/>
<path d="M2037.5,204.3 C2134,204.3 2134,291.4 2231.1,291.4" stroke="#8a8a8a" stroke-width=".8" marker-end="url(#ah)"/>
<path d="M2291.2,284.4 C2382,284.4 2378,204.4 2479.9,204.4" stroke="#8a8a8a" stroke-width=".8" marker-end="url(#ah)"/>
<path d="M2291.2,298.4 C2382,298.4 2378,391.7 2479.9,391.7" stroke="#8a8a8a" stroke-width=".8" marker-end="url(#ah)"/>
<path d="M2510.2,259 L2510.2,240.4" stroke="#8a8a8a" stroke-width=".8" marker-end="url(#ah)"/>
<path d="M2510.2,317 L2510.2,357" stroke="#8a8a8a" stroke-width=".8"/>
<path d="M2541.8,197 C2636,197 2636,284.4 2729.6,284.4" stroke="#8a8a8a" stroke-width=".8" marker-end="url(#ah)"/>
<path d="M2541.8,204.3 C2590,204.3 2609,225 2609,255.6" stroke="#8a8a8a" stroke-width=".8" marker-end="url(#ah)"/>
<path d="M2639.8,291.4 C2680,291.4 2690,298.2 2729.6,298.2" stroke="#8a8a8a" stroke-width=".8" marker-end="url(#ah)"/>
<path d="M2789.7,284.4 C2869,284.4 2869,204.4 2949,204.4" stroke="#8a8a8a" stroke-width=".8" marker-end="url(#ah)"/>
<path d="M2789.7,298.4 C2869,298.4 2869,391.7 2949,391.7" stroke="#8a8a8a" stroke-width=".8" marker-end="url(#ah)"/>
<path d="M2979.7,259 L2979.7,240.4" stroke="#8a8a8a" stroke-width=".8" marker-end="url(#ah)"/>
<path d="M2979.7,317 L2979.7,357" stroke="#8a8a8a" stroke-width=".8"/>
<path d="M3011.3,204.7 C3058,204.7 3058,291.4 3106,291.4" stroke="#8a8a8a" stroke-width=".8" marker-end="url(#ah)"/>
<path d="M3167.5,291.4 C3209,291.4 3209,204.7 3250,204.7" stroke="#8a8a8a" stroke-width=".8" marker-end="url(#ah)"/>
<path d="M3312.4,204.4 C3365,204.4 3365,290.9 3418.7,290.9" stroke="#8a8a8a" stroke-width=".8" marker-end="url(#ah)"/>
</svg>
<svg class="a" style="left:664.4px;top:525px;width:14.8px;height:18px"><use href="#i-hand"/></svg>
<div class="t" style="left:685.6px;top:531px;height:10px;line-height:10px;font-size:7.2px;color:#333;letter-spacing:0.148px">Documentation</div>
<svg class="a" style="left:664.6px;top:555.9px;width:12.8px;height:12.8px"><use href="#i-info-thin"/></svg>
<div class="a" style="left:681.7px;top:556.9px;width:139px;height:57.9px;border:1px solid #8c8c8c;border-radius:8.5px;background:#fff;color:#9a9a9a;font-size:5.5px;line-height:6.75px;text-align:center;padding-top:18.4px;white-space:nowrap">The user tries to understand with the help of the<br>documentation which system requirements have to be<br>met. This applies equally to hardware and software.</div>
<div class="s y" style="left:326.3px;top:259.0px;font-size:6.90px;z-index:5;"><span>Manager:<br>Where can my<br>Admin<br>download the<br>latest release?</span></div>
<div class="s g" style="left:495.8px;top:259.0px;font-size:5.00px;z-index:5;"><span>CI: Setup mail with<br>download links for<br>images and further<br>information on<br>Repos<br>Step-by-Step-Guide</span></div>
<div class="s b" style="left:326.8px;top:361.0px;font-size:7.00px;z-index:5;"><span>Who gives the<br>customer the<br>software or<br>infos and how?</span></div>
<div class="s b" style="left:495.8px;top:361.0px;font-size:6.40px;z-index:5;"><span>Where to find<br>documentation?</span></div>
<div class="s y" style="left:844.0px;top:259.0px;font-size:9.20px;z-index:5;"><span>Admin: I<br>hope the<br>installation<br>runs well</span></div>
<div class="s g" style="left:905.0px;top:259.0px;font-size:6.70px;z-index:5;"><span>Meeting via<br>screensharing</span></div>
<div class="s ly" style="left:1067.0px;top:169.0px;font-size:8.90px;z-index:5;"><span style="position:relative;top:1.0px">Admin: Yes,<br>everything<br>runs!</span></div>
<div class="s g" style="left:1067.0px;top:259.0px;font-size:5.00px;z-index:5;"><span style="position:relative;top:-1.0px">If solution isn't<br>found during<br>meeting, SE will (ask<br>for help at CI and)<br>write the solution<br>via Email / schedule<br>an extra meeting</span></div>
<div class="s o" style="left:1067.3px;top:359.7px;font-size:8.90px;z-index:5;"><span>Admin:<br>Damn,<br>something<br>is broken!</span></div>
<div class="s o" style="left:1329.3px;top:359.7px;font-size:5.80px;z-index:5;"><span>Admin: I am<br>having the next<br>issue which stops<br>me from setting<br>up the system</span></div>
<div class="s y" style="left:1446.0px;top:259.0px;font-size:9.00px;z-index:5;"><span style="position:relative;top:-1.0px">Admin: Ask<br>CI again for<br>help?</span></div>
<div class="s g" style="left:1513.0px;top:259.0px;font-size:7.00px;z-index:5;"><span style="position:relative;top:-1.0px">If possible SE<br>answers<br>directly<br>(1-2h or same<br>day)</span></div>
<div class="s g" style="left:1446.2px;top:352.5px;font-size:7.00px;z-index:5;"><span>If possible SE<br>answers<br>directly<br>(1-2h or same<br>day)</span></div>
<div class="s ly" style="left:1628.2px;top:172.0px;font-size:8.20px;z-index:5;"><span>Admin:<br>Finally, CI<br>Fuzz is up<br>and running</span></div>
<div class="s y" style="left:1829.7px;top:259.0px;font-size:9.20px;z-index:5;"><span>Admin: Do<br>we have a<br>fitting<br>project?</span></div>
<div class="s ly" style="left:1977.2px;top:172.0px;font-size:7.00px;z-index:5;"><span>Fuzzing<br>Champion:<br>Yes, everything<br>is set up!</span></div>
<div class="s g" style="left:1977.0px;top:256.8px;font-size:7.50px;z-index:5;"><span>Refer to<br>requirements<br>list for a<br>fitting project</span></div>
<div class="s o" style="left:1977.4px;top:357.8px;font-size:8.30px;z-index:5;"><span>Admin: Why<br>can we not<br>find a fitting<br>project?</span></div>
<div class="s y" style="left:2233.1px;top:259.0px;font-size:7.00px;z-index:5;"><span>Fuzzing<br>Champion:<br>How do I set<br>up the project?</span></div>
<div class="s g" style="left:2294.0px;top:259.0px;font-size:7.20px;z-index:5;"><span>Meeting via<br>screensharing<br>(1 hour)</span></div>
<div class="s ly" style="left:2481.8px;top:172.0px;font-size:7.00px;z-index:5;"><span>Fuzzing<br>Champion:<br>Yes, everything<br>is set up!</span></div>
<div class="s g" style="left:2481.3px;top:259.0px;font-size:5.00px;z-index:5;"><span style="position:relative;top:-1.0px">If solution isn't<br>found during<br>meeting, SE will (ask<br>for help at CI and)<br>write the solution<br>via Email / schedule<br>an extra meeting</span></div>
<div class="s o" style="left:2481.6px;top:359.7px;font-size:8.20px;z-index:5;"><span>Fuzzing<br>Champion:<br>Damn, it's<br>not working!</span></div>
<div class="s g" style="left:2580.0px;top:259.0px;font-size:6.40px;z-index:5;"><span>Fuzzing<br>Champion<br>sometimes<br>writes some<br>more fuzz tests</span></div>
<div class="s y" style="left:2731.6px;top:259.0px;font-size:8.30px;z-index:5;"><span>Fuzzing<br>Champion:<br>How do I set<br>up CI Sense?</span></div>
<div class="s g" style="left:2792.8px;top:259.0px;font-size:6.70px;z-index:5;"><span>Meeting via<br>screensharing</span></div>
<div class="s ly" style="left:2950.9px;top:172.0px;font-size:9.70px;z-index:5;"><span>Fuzzing<br>Champion:<br>It works!!!</span></div>
<div class="s g" style="left:2950.3px;top:259.0px;font-size:5.00px;z-index:5;"><span style="position:relative;top:-1.0px">If solution isn't<br>found during<br>meeting, SE will (ask<br>for help at CI and)<br>write the solution<br>via Email / schedule<br>an extra meeting</span></div>
<div class="s o" style="left:2951.1px;top:359.7px;font-size:8.20px;z-index:5;"><span>Fuzzing<br>Champion:<br>Damn, it's<br>not working!</span></div>
<div class="s g" style="left:3107.8px;top:259.0px;font-size:6.40px;z-index:5;"><span>Fuzzing<br>Champion<br>sometimes<br>writes some<br>more fuzz tests</span></div>
<div class="s ly" style="left:3252.2px;top:172.0px;font-size:7.00px;z-index:5;"><span>Fuzzing<br>Champion: I<br>have some<br>great findings!</span></div>
<div class="s y" style="left:3421.5px;top:259.0px;font-size:7.70px;z-index:5;"><span>DevOps: How<br>do I integrate<br>this in our<br>CI/CD?</span></div>
<div class="s g" style="left:276.0px;top:509.4px;font-size:5.90px;z-index:6;"><span>Meetings for 2<br>weeks  scheduled<br>before  POC: at<br>least 2 Meetings<br>per week</span></div>
<div class="s g" style="left:321.5px;top:553.8px;font-size:5.10px;z-index:7;"><span>If there is time and<br>help needed, up to 2<br>extra meetings per<br>day (discuss issues<br>in the morning; get<br>solution in the<br>evening)</span></div>
<div class="s g" style="left:393.7px;top:509.4px;font-size:7.80px;z-index:8;"><span>CI sends a<br>requirements<br>list to find a<br>fitting project</span></div>
<div class="s b" style="left:898.5px;top:499.1px;font-size:7.70px;z-index:9;"><span>How does the<br>SE participate<br>to the<br>process?</span></div>
<div class="s g" style="left:951.4px;top:548.0px;font-size:6.60px;z-index:10;"><span>Mostly, the<br>installation is<br>done together<br>in a meeting (via<br>screensharing)</span></div>
<div class="s b" style="left:1095.0px;top:499.1px;font-size:7.70px;z-index:11;"><span>What are the<br>TOP 5/10<br>problems in<br>this phase?</span></div>
<div class="s p" style="left:1058.4px;top:554.0px;font-size:6.80px;z-index:12;"><span>"CI Fuzz<br>installation for<br>Windows is<br>often<br>problematic"</span></div>
<div class="s p" style="left:1130.8px;top:554.0px;font-size:11.70px;z-index:13;"><span>"Make is<br>painful!"</span></div>
<div class="s b" style="left:1367.3px;top:514.8px;font-size:7.70px;z-index:14;"><span>How does the<br>SE participate<br>to the<br>process?</span></div>
<div class="s g" style="left:1416.5px;top:560.0px;font-size:7.20px;z-index:15;"><span>Meeting via<br>Screensharing<br>only</span></div>
<div class="s g" style="left:1500.8px;top:514.9px;font-size:12.20px;z-index:16;"><span>backend<br>mostly<br>easy</span></div>
<div class="s g" style="left:1574.0px;top:514.8px;font-size:5.80px;z-index:17;"><span>Nice-to-have<br>would be: ONE list<br>for requirements;<br>no matter what<br>fuzzing goal</span></div>
<div class="s p" style="left:1829.9px;top:515.1px;font-size:8.90px;z-index:18;"><span>"Customer<br>needs a<br>fitting<br>project"</span></div>
<div class="s g" style="left:1911.1px;top:517.2px;font-size:7.50px;z-index:19;"><span>CI sends a<br>requirements<br>list for a<br>fitting project</span></div>
<div class="s g" style="left:1911.3px;top:572.1px;font-size:6.50px;z-index:20;"><span>Finding a<br>project  often<br>happens<br>parallel to<br>installation, etc.</span></div>
<div class="s p" style="left:1977.8px;top:517.2px;font-size:6.90px;z-index:21;"><span style="position:relative;top:-1.0px">"Finding a<br>project is often<br>the most time<br>consuming for<br>the customer"</span></div>
<div class="s p" style="left:2045.9px;top:515.1px;font-size:6.70px;z-index:22;"><span>"Email is not<br>identical with<br>the installation<br>email"</span></div>
<div class="s g" style="left:1977.4px;top:580.0px;font-size:6.40px;z-index:23;"><span style="position:relative;top:-1.0px">Client needs to<br>find a project<br>where there are<br>developers<br>available</span></div>
<div class="s g" style="left:2024.7px;top:623.8px;font-size:5.10px;z-index:24;"><span style="position:relative;top:-1.0px">Often though,<br>someone from<br>outside the project<br>does the POC (little<br>investment of the<br>project's developers)</span></div>
<div class="s g" style="left:2024.5px;top:678.5px;font-size:5.70px;z-index:25;"><span>Persona from<br>here: "small"<br>project manager /<br>leading dev with<br>security/QA<br>background</span></div>
<div class="s g" style="left:2221.4px;top:507.0px;font-size:7.00px;z-index:26;"><span style="position:relative;top:-1.0px">Meeting via<br>Screensharing<br>only</span></div>
<div class="s g" style="left:2297.1px;top:509.4px;font-size:6.90px;z-index:27;"><span>Goal / limit is<br>to set up the<br>project and<br>run one fuzz<br>test</span></div>
<div class="s g" style="left:2366.8px;top:509.4px;font-size:6.90px;z-index:28;"><span>Sometimes,<br>the customer<br>already set up<br>the project in<br>advance</span></div>
<div class="s p" style="left:2266.8px;top:584.0px;font-size:7.00px;z-index:29;"><span style="position:relative;top:-1.0px">"C can be<br>tricky<br>(sharedLibs),<br>Image<br>needed"</span></div>
<div class="s p" style="left:2332.8px;top:584.0px;font-size:7.50px;z-index:30;"><span>"MAKE is<br>always<br>problematic"</span></div>
<div class="s p" style="left:2332.8px;top:638.3px;font-size:6.40px;z-index:31;"><span>"Here,<br>sometimes 2<br>meetings are<br>necessary to set<br>up the project"</span></div>
<div class="s g" style="left:2397.4px;top:584.0px;font-size:12.00px;z-index:32;"><span>Java is<br>mostly<br>easy</span></div>
<div class="s g" style="left:2743.6px;top:509.4px;font-size:6.30px;z-index:33;"><span>New<br>Appointment via<br>screensharing (a<br>round 3 days<br>later)</span></div>
<div class="s g" style="left:2819.9px;top:509.4px;font-size:12.00px;z-index:34;"><span>Goal:<br>Remote<br>Run</span></div>
<div class="s g" style="left:2717.3px;top:580.0px;font-size:9.10px;z-index:35;"><span style="position:relative;top:-1.2px">1. Show<br>how to add<br>a project</span></div>
<div class="s g" style="left:2785.0px;top:580.0px;font-size:9.00px;z-index:36;"><span style="position:relative;top:-1.2px">2. Show<br>how to<br>create a<br>token</span></div>
<div class="s g" style="left:2850.8px;top:580.0px;font-size:9.00px;z-index:37;"><span style="position:relative;top:-1.2px">3. Show<br>how to<br>start a<br>remote run</span></div>
<div class="s g" style="left:2751.6px;top:649.8px;font-size:7.50px;z-index:38;"><span>Check for<br>special<br>requirements</span></div>
<div class="s g" style="left:2827.2px;top:649.8px;font-size:9.40px;z-index:39;"><span>Explain the<br>features in<br>Findings</span></div>
<div class="s p" style="left:3107.8px;top:499.2px;font-size:6.90px;z-index:40;"><span>"If customer<br>has time they<br>should write<br>more tests /<br>execute runs"</span></div>
<div class="s b mid" style="left:208.8px;top:614px;width:78.4px;height:78px;z-index:8;justify-content:flex-start;text-align:left;font-size:5.15px;line-height:7px;padding:0 0 2.7px 6.8px"><span><b>Fixed Meetings:</b><br>1. Installation<br>2. Project Setup<br>3. CI Sense Integration<br>4. CI/CD Integration<br>(Optional: Code Coverage<br>Optimization)<br>5. Closing Meeting</span></div>
<div class="s g big" style="left:2924.6px;top:-60.3px;width:100.6px;height:100px;z-index:8;font-size:10.4px;line-height:13.6px;align-items:flex-end;padding-bottom:11.5px"><span>might be different<br>for CS)</span></div>
<svg class="a" style="left:342.0px;top:229.9px;width:21.2px;height:21.2px;z-index:7"><use href="#e-neutral"/></svg>
<svg class="a" style="left:860.0px;top:229.7px;width:21.2px;height:21.2px;z-index:7"><use href="#e-grimace"/></svg>
<svg class="a" style="left:1083.0px;top:137.7px;width:21.2px;height:21.2px;z-index:7"><use href="#e-grin"/></svg>
<svg class="a" style="left:1082.9px;top:330.8px;width:21.2px;height:21.2px;z-index:7"><use href="#e-angry"/></svg>
<svg class="a" style="left:1344.7px;top:331.1px;width:21.2px;height:21.2px;z-index:7"><use href="#e-angry"/></svg>
<svg class="a" style="left:1461.2px;top:228.9px;width:21.6px;height:22.6px;z-index:7"><use href="#e-think"/></svg>
<svg class="a" style="left:1644.1px;top:140.8px;width:21.2px;height:21.2px;z-index:7"><use href="#e-grin"/></svg>
<svg class="a" style="left:1844.2px;top:228.9px;width:21.6px;height:22.6px;z-index:7"><use href="#e-think"/></svg>
<svg class="a" style="left:1992.9px;top:140.8px;width:21.2px;height:21.2px;z-index:7"><use href="#e-grin"/></svg>
<svg class="a" style="left:1992.9px;top:328.6px;width:21.2px;height:21.2px;z-index:7"><use href="#e-angry"/></svg>
<svg class="a" style="left:2247.7px;top:228.9px;width:21.6px;height:22.6px;z-index:7"><use href="#e-think"/></svg>
<svg class="a" style="left:2496.7px;top:140.8px;width:21.2px;height:21.2px;z-index:7"><use href="#e-grin"/></svg>
<svg class="a" style="left:2496.7px;top:331.1px;width:21.2px;height:21.2px;z-index:7"><use href="#e-angry"/></svg>
<svg class="a" style="left:2746.2px;top:228.9px;width:21.6px;height:22.6px;z-index:7"><use href="#e-think"/></svg>
<svg class="a" style="left:2966.7px;top:140.8px;width:21.2px;height:21.2px;z-index:7"><use href="#e-grin"/></svg>
<svg class="a" style="left:2965.8px;top:331.1px;width:21.2px;height:21.2px;z-index:7"><use href="#e-angry"/></svg>
<svg class="a" style="left:3267.7px;top:140.8px;width:21.2px;height:21.2px;z-index:7"><use href="#e-grin"/></svg>
<svg class="a" style="left:3437.7px;top:230.9px;width:21.6px;height:22.6px;z-index:7"><use href="#e-think"/></svg>
<svg class="a" style="left:293.4px;top:228.4px;width:17px;height:17px"><use href="#i-info"/></svg>
<div class="dot" style="left:405.3px;top:849.8px;width:9.3px;height:9.3px;background:#ee4a2a"></div>
<div class="dot" style="left:412.4px;top:849.8px;width:9.3px;height:9.3px;background:#52a0b4"></div>
<div class="card" style="left:407.5px"><span style="position:relative;left:-2.5px;top:1.3px">Wants the latest release<br>from our Server</span></div>
<div class="act" style="left:273.3px;top:869px">ACTION</div>
<div class="an" style="left:237.0px;top:880.0px;letter-spacing:-0.030px">DOWNLOAD CI FUZZ</div>
<div class="ug" style="left:405.3px">USER GOAL</div>
<div class="dot" style="left:680.8px;top:849.8px;width:9.3px;height:9.3px;background:#ee4a2a"></div>
<div class="dot" style="left:687.9px;top:849.8px;width:9.3px;height:9.3px;background:#52a0b4"></div>
<div class="card" style="left:683.0px"><span style="position:relative;left:-1.0px;top:0.8px">Understand system and<br>software requirements<br>needed for running CI FUZZ</span></div>
<div class="act" style="left:548.8px;top:869px">ACTION</div>
<div class="an" style="left:512.5px;top:880.0px;letter-spacing:-0.104px">READING PRE REQUISITION</div>
<div class="an" style="left:512.5px;top:889.9px;letter-spacing:0.141px">DOCUMENTATION</div>
<div class="ug" style="left:680.8px">USER GOAL</div>
<div class="dot" style="left:976.7px;top:849.8px;width:9.3px;height:9.3px;background:#ee4a2a"></div>
<div class="dot" style="left:983.8px;top:849.8px;width:9.3px;height:9.3px;background:#52a0b4"></div>
<div class="card" style="left:978.9px"><span style="position:relative;left:2.0px;top:-3.2px">Install prerequisits and<br>dependencies needed for<br>successfully installation<br>of the latest release of CI<br>Fuzz</span></div>
<div class="act" style="left:844.7px;top:869px">ACTION</div>
<div class="an" style="left:808.4px;top:880.0px;letter-spacing:-0.321px">INSTALL LATEST RELEASE</div>
<div class="an" style="left:808.4px;top:889.9px;letter-spacing:-0.192px">ON PREMISE</div>
<div class="ug" style="left:976.7px">USER GOAL</div>
<div class="dot" style="left:1457.8px;top:849.8px;width:9.3px;height:9.3px;background:#ee4a2a"></div>
<div class="dot" style="left:1464.9px;top:849.8px;width:9.3px;height:9.3px;background:#52a0b4"></div>
<div class="card" style="left:1460.0px"><span style="position:relative;left:2.1px;top:-3.2px">Configuring CI Fuzz for<br>successfully runing on<br>the on premise<br>environment</span></div>
<div class="act" style="left:1325.8px;top:869px">ACTION</div>
<div class="an" style="left:1289.5px;top:880.0px;letter-spacing:-0.086px">CONFIGURE CI FUZZ ON</div>
<div class="an" style="left:1289.5px;top:889.9px;letter-spacing:-0.360px">PREMISE</div>
<div class="ug" style="left:1457.8px">USER GOAL</div>
<div class="dot" style="left:2009.2px;top:849.8px;width:9.3px;height:9.3px;background:#ee4a2a"></div>
<div class="dot" style="left:2016.3px;top:849.8px;width:9.3px;height:9.3px;background:#52a0b4"></div>
<div class="card" style="left:2011.4px"><span style="position:relative;left:1.0px;top:-0.8px">Finding a project which<br>suits best the for security<br>testing with CI Fuzz</span></div>
<div class="act" style="left:1877.2px;top:869px">ACTION</div>
<div class="an" style="left:1840.9px;top:880.0px;letter-spacing:-0.169px">FIND A FITTING PROJECT</div>
<div class="ug" style="left:2009.2px">USER GOAL</div>
<div class="dot" style="left:2328.9px;top:849.8px;width:9.3px;height:9.3px;background:#ee4a2a"></div>
<div class="dot" style="left:2336.0px;top:849.8px;width:9.3px;height:9.3px;background:#52a0b4"></div>
<div class="card" style="left:2331.1px"><span style="position:relative;left:1.1px;top:1.3px">Setup CI Fuzz with at least<br>on fuzz test running</span></div>
<div class="act" style="left:2196.9px;top:869px">ACTION</div>
<div class="an" style="left:2160.6px;top:880.0px;letter-spacing:-0.394px">SETUP THE PROJECT</div>
<div class="ug" style="left:2328.9px">USER GOAL</div>
<div class="dot" style="left:2912.7px;top:849.8px;width:9.3px;height:9.3px;background:#ee4a2a"></div>
<div class="dot" style="left:2919.8px;top:849.8px;width:9.3px;height:9.3px;background:#52a0b4"></div>
<div class="card" style="left:2914.9px"><span style="position:relative;left:1.0px;top:1.3px">See the advantages of<br>using CI Sense with CI Fuzz</span></div>
<div class="act" style="left:2780.7px;top:869px">ACTION</div>
<div class="an" style="left:2744.4px;top:880.0px;letter-spacing:-0.264px">INTEGRATE CI SENSE</div>
<div class="ug" style="left:2912.7px">USER GOAL</div>
</body></html>
